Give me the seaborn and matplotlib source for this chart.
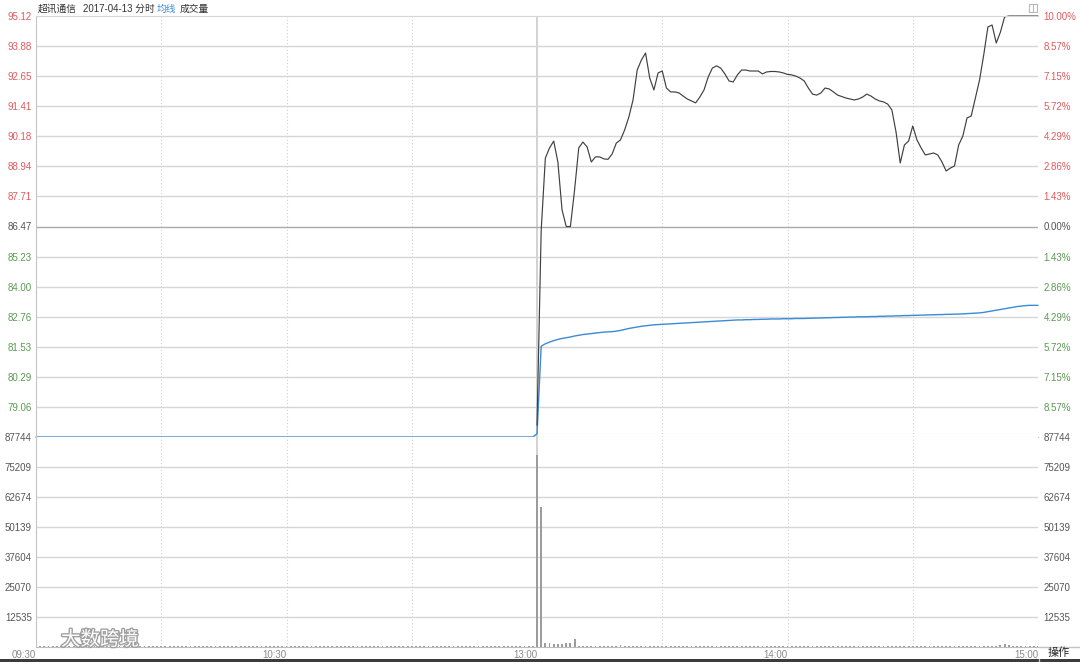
import numpy as np
import pandas as pd
import seaborn as sns
import matplotlib.pyplot as plt
import matplotlib.patheffects as pe
from matplotlib.lines import Line2D
from matplotlib.patches import Rectangle

# ---- data ----
prev_close = 86.47
price_ticks = [95.12, 93.88, 92.65, 91.41, 90.18, 88.94, 87.71, 86.47,
               85.23, 84.00, 82.76, 81.53, 80.29, 79.06]
price_floor = 77.82
pct_labels = ["10.00%", "8.57%", "7.15%", "5.72%", "4.29%", "2.86%", "1.43%", "0.00%",
              "1.43%", "2.86%", "4.29%", "5.72%", "7.15%", "8.57%"]
vol_ticks = [12535, 25070, 37604, 50139, 62674, 75209, 87744]
time_ticks = [0, 60, 120, 180, 240]
time_labels = ["09:30", "10:30", "13:00", "14:00", "15:00"]

# morning: no trades (halted), average line sits on the panel floor
price_am = [np.nan] * 120
avg_am = [77.82] * 120
vol_am = [400] * 120

# afternoon 13:00 .. 15:00
price_pm = [78.30, 86.30, 89.28, 89.70, 89.98, 89.12, 87.15, 86.47, 86.47, 87.97,
            89.70, 89.94, 89.74, 89.12, 89.33, 89.33, 89.25, 89.23, 89.45, 89.90,
            90.03, 90.44, 90.97, 91.67, 92.90, 93.31, 93.60, 92.57, 92.08, 92.78,
            92.86, 92.16, 92.00, 92.00, 91.96, 91.83, 91.71, 91.63, 91.55, 91.79,
            92.08, 92.61, 92.98, 93.07, 92.98, 92.74, 92.45, 92.41, 92.70, 92.90,
            92.90, 92.86, 92.86, 92.86, 92.74, 92.82, 92.84, 92.84, 92.82, 92.78,
            92.72, 92.70, 92.65, 92.57, 92.45, 92.16, 91.91, 91.87, 91.96, 92.16,
            92.12, 92.00, 91.87, 91.81, 91.75, 91.71, 91.67, 91.71, 91.79, 91.91,
            91.83, 91.71, 91.63, 91.59, 91.50, 91.26, 90.35, 89.08, 89.82, 89.98,
            90.60, 90.03, 89.70, 89.41, 89.45, 89.49, 89.41, 89.12, 88.75, 88.87,
            88.96, 89.82, 90.19, 90.93, 91.01, 91.75, 92.49, 93.52, 94.67, 94.75,
            94.01, 94.46, 95.08, 95.12, 95.12, 95.12, 95.12, 95.12, 95.12, 95.12,
            95.12]
avg_pm = [77.95, 81.55, 81.65, 81.72, 81.78, 81.83, 81.87, 81.90, 81.93, 81.97,
          82.00, 82.03, 82.05, 82.07, 82.09, 82.11, 82.13, 82.14, 82.15, 82.17,
          82.20, 82.24, 82.28, 82.31, 82.34, 82.37, 82.39, 82.41, 82.43, 82.44,
          82.45, 82.46, 82.47, 82.48, 82.49, 82.50, 82.51, 82.52, 82.53, 82.54,
          82.55, 82.56, 82.57, 82.58, 82.59, 82.60, 82.61, 82.62, 82.63, 82.63,
          82.64, 82.64, 82.65, 82.65, 82.66, 82.66, 82.67, 82.67, 82.67, 82.68,
          82.68, 82.68, 82.69, 82.69, 82.69, 82.70, 82.70, 82.71, 82.71, 82.72,
          82.72, 82.73, 82.73, 82.74, 82.74, 82.75, 82.75, 82.76, 82.76, 82.76,
          82.77, 82.77, 82.78, 82.78, 82.79, 82.79, 82.80, 82.80, 82.81, 82.81,
          82.82, 82.82, 82.83, 82.83, 82.84, 82.84, 82.85, 82.85, 82.86, 82.86,
          82.87, 82.87, 82.88, 82.89, 82.90, 82.91, 82.92, 82.94, 82.97, 83.00,
          83.03, 83.06, 83.09, 83.12, 83.15, 83.18, 83.20, 83.22, 83.23, 83.23,
          83.23]
vol_pm = [80200, 58500, 1800, 1800, 1250, 1250, 1250, 1800, 1800, 3350,
          400, 400, 400, 400, 400, 400, 400, 400, 400, 400,
          1000, 400, 400, 400, 400, 400, 400, 400, 400, 400,
          400, 400, 400, 400, 400, 400, 400, 400, 400, 400,
          400, 400, 400, 400, 400, 400, 400, 400, 400, 400,
          400, 400, 400, 400, 400, 400, 400, 400, 400, 400,
          400, 400, 400, 400, 400, 400, 400, 400, 400, 400,
          400, 400, 400, 400, 400, 400, 400, 400, 400, 400,
          400, 400, 400, 400, 400, 400, 400, 400, 400, 400,
          400, 400, 400, 400, 400, 400, 400, 400, 400, 400,
          400, 400, 400, 400, 400, 400, 400, 400, 400, 400,
          400, 900, 1200, 900, 400, 400, 400, 400, 400, 400,
          400]

df = pd.DataFrame({
    "minute": np.arange(241),
    "price": price_am + price_pm,
    "avg": avg_am + avg_pm,
    "volume": vol_am + vol_pm,
})

sns.set_style("white")
plt.rcParams["font.family"] = ["Liberation Sans", "Noto Sans CJK SC", "DejaVu Sans"]

RED, GREEN, DARK, GRID = "#e2595c", "#5a9a52", "#555555", "#d6d6d6"
W, H = 1080, 662


def box(x0, y0, x1, y1):
    return [x0 / W, 1 - y1 / H, (x1 - x0) / W, (y1 - y0) / H]


fig = plt.figure(figsize=(W / 100, H / 100), dpi=100)
ax_p = fig.add_axes(box(36, 16, 1038, 437))
ax_v = fig.add_axes(box(36, 437, 1038, 647))

for ax in (ax_p, ax_v):
    for m in [30, 60, 90, 150, 180, 210]:
        ax.axvline(m, color="#cfcfcf", lw=0.8, ls=(0, (1, 2)), zorder=0)
    ax.axvline(120, color="#d2d2d2", lw=1.4, zorder=0)
    for s in ax.spines.values():
        s.set_visible(False)
    ax.spines["left"].set_visible(True)
    ax.spines["left"].set_color("#c4c4c4")

# price panel
for v in price_ticks[1:]:
    ax_p.axhline(v, color="#a9a9a9" if v == prev_close else GRID, lw=1, zorder=0)
ax_p.spines["top"].set_visible(True)
ax_p.spines["top"].set_color(GRID)
ax_p.spines["bottom"].set_visible(True)
ax_p.spines["bottom"].set_color("#c4c4c4")

sns.lineplot(data=df, x="minute", y="avg", ax=ax_p, color="#3b8ad6", lw=1, clip_on=False)
sns.lineplot(data=df, x="minute", y="price", ax=ax_p, color="#404040", lw=0.85, clip_on=False)
ax_p.set_xlim(0, 240)
ax_p.set_ylim(price_floor, price_ticks[0])
ax_p.set_xlabel("")
ax_p.set_ylabel("")
ax_p.set_xticks([])

tick_colors = [RED if v > prev_close else (DARK if v == prev_close else GREEN) for v in price_ticks]
ax_p.set_yticks(price_ticks)
ax_p.set_yticklabels([f"{v:.2f}" for v in price_ticks])
ax_p.tick_params(axis="y", length=0, pad=3, labelsize=7)
for lab, c in zip(ax_p.get_yticklabels(), tick_colors):
    lab.set_color(c)

ax_pr = ax_p.twinx()
ax_pr.set_ylim(price_floor, price_ticks[0])
ax_pr.set_yticks(price_ticks)
ax_pr.set_yticklabels(pct_labels)
ax_pr.tick_params(axis="y", length=0, pad=4, labelsize=7)
for s in ax_pr.spines.values():
    s.set_visible(False)
for lab, c in zip(ax_pr.get_yticklabels(), tick_colors):
    lab.set_color(c)

# volume panel
for v in vol_ticks[:-1]:
    ax_v.axhline(v, color=GRID, lw=1, zorder=0)
sns.barplot(data=df, x="minute", y="volume", ax=ax_v, native_scale=True,
            color="#9c9c9c", saturation=1, width=0.45, errorbar=None, linewidth=0)
ax_v.set_xlim(0, 240)
ax_v.set_ylim(0, vol_ticks[-1])
ax_v.set_xlabel("")
ax_v.set_ylabel("")
ax_v.spines["bottom"].set_visible(True)
ax_v.spines["bottom"].set_color("#bdbdbd")
ax_v.set_yticks(vol_ticks)
ax_v.set_yticklabels([str(v) for v in vol_ticks])
ax_v.tick_params(axis="y", length=0, pad=3, labelsize=7, labelcolor=DARK)
ax_v.set_xticks(time_ticks)
ax_v.set_xticklabels(time_labels)
ax_v.tick_params(axis="x", length=0, pad=2, labelsize=7, labelcolor="#8a8a8a")
for lab in ax_v.get_xticklabels():
    lab.set_ha("right")

ax_vr = ax_v.twinx()
ax_vr.set_ylim(0, vol_ticks[-1])
ax_vr.set_yticks(vol_ticks)
ax_vr.set_yticklabels([str(v) for v in vol_ticks])
ax_vr.tick_params(axis="y", length=0, pad=4, labelsize=7, labelcolor=DARK)
for s in ax_vr.spines.values():
    s.set_visible(False)

# frame pieces
fig.add_artist(Line2D([1038.5 / W] * 2, [0, 1 - 659 / H], color="#c4c4c4", lw=1))
fig.add_artist(Line2D([1038.5 / W, 1], [1 - 647 / H] * 2, color="#c4c4c4", lw=1))
fig.add_artist(Rectangle((0, 0), 1, 3 / H, color="#3c3c3c", lw=0))
fig.add_artist(Rectangle((1029 / W, 1 - 12 / H), 8 / W, 8 / H, fill=False, ec="#b8b8b8", lw=0.8))
fig.add_artist(Line2D([1033 / W] * 2, [1 - 12 / H, 1 - 4 / H], color="#b8b8b8", lw=0.8))

# header
fig.text(38 / W, 1 - 9 / H, "超讯通信", fontsize=7, color="#333333", va="center")
fig.text(83 / W, 1 - 9 / H, "2017-04-13 分时", fontsize=7, color="#333333", va="center")
fig.text(157 / W, 1 - 9 / H, "均线", fontsize=7, color="#3b8ad6", va="center")
fig.text(180 / W, 1 - 9 / H, "成交量", fontsize=7, color="#333333", va="center")
fig.text(1059 / W, 1 - 653 / H, "操作", fontsize=8, color="#222222", ha="center", va="center")

# watermark
fig.text(100 / W, 1 - 640 / H, "大数跨境", fontsize=14, color="white", ha="center", va="center",
         path_effects=[pe.withStroke(linewidth=2, foreground="#a0a0a0")])

fig.savefig("out.png", dpi=100)
